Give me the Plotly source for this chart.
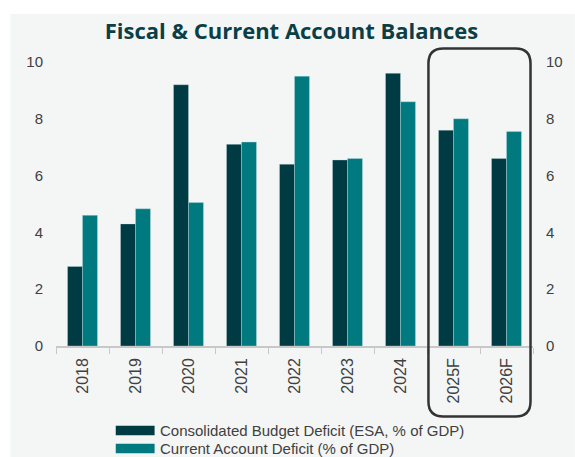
import plotly.graph_objects as go

# Data (% of GDP)
years = ["2018", "2019", "2020", "2021", "2022", "2023", "2024", "2025F", "2026F"]
budget_deficit = [2.8, 4.3, 9.2, 7.1, 6.4, 6.55, 9.6, 7.6, 6.6]
current_account_deficit = [4.6, 4.83, 5.05, 7.18, 9.5, 6.6, 8.6, 8.0, 7.55]

series_names = [
    "Consolidated Budget Deficit (ESA, % of GDP)",
    "Current Account Deficit (% of GDP)",
]
series_colors = ["#003a42", "#00797f"]

W, H = 575, 457
L, R, T, B = 56, 40, 62, 111
PW, PH = W - L - R, H - T - B

def px_x(x):
    return (x - L) / PW

def px_y(y):
    return (H - B - y) / PH

text_color = "#404040"
font_family = "Liberation Sans, Arial, sans-serif"

fig = go.Figure()
for name, vals, col in zip(series_names, [budget_deficit, current_account_deficit], series_colors):
    fig.add_trace(go.Bar(
        x=years, y=vals, name=name,
        marker=dict(color=col, line=dict(color="rgba(200,225,228,0.6)", width=0.6)),
        showlegend=False,
    ))
# invisible trace to drive the right-hand axis
fig.add_trace(go.Scatter(x=years, y=budget_deficit, yaxis="y2", mode="none",
                         showlegend=False, hoverinfo="skip"))

shapes = []
# light panel behind the chart
shapes.append(dict(type="rect", xref="paper", yref="paper",
                   x0=px_x(10), x1=px_x(W + 2), y0=px_y(H + 2), y1=px_y(14),
                   fillcolor="#f4f6f6", line=dict(width=0), layer="below"))

# rounded box around the forecast years
bx0, bx1, by0, by1, rad = 430.0, 532.5, 48.5, 416.5, 15.0
x0, x1 = px_x(bx0), px_x(bx1)
yt, yb = px_y(by0), px_y(by1)
rx, ry = rad / PW, rad / PH
path = (f"M {x0+rx},{yt} L {x1-rx},{yt} Q {x1},{yt} {x1},{yt-ry} "
        f"L {x1},{yb+ry} Q {x1},{yb} {x1-rx},{yb} "
        f"L {x0+rx},{yb} Q {x0},{yb} {x0},{yb+ry} "
        f"L {x0},{yt-ry} Q {x0},{yt} {x0+rx},{yt} Z")
shapes.append(dict(type="path", xref="paper", yref="paper", path=path,
                   line=dict(color="#333333", width=2.5), layer="above"))

# legend drawn with wide swatches
annotations = []
legend_rows = [430.5, 448.5]
for name, col, yc in zip(series_names, series_colors, legend_rows):
    shapes.append(dict(type="rect", xref="paper", yref="paper",
                       x0=px_x(116), x1=px_x(155), y0=px_y(yc + 4.7), y1=px_y(yc - 4.7),
                       fillcolor=col, line=dict(width=0)))
    annotations.append(dict(xref="paper", yref="paper", x=px_x(158), y=px_y(yc),
                            xanchor="left", yanchor="middle", showarrow=False,
                            text=name, font=dict(size=15, color=text_color, family=font_family)))

fig.update_layout(
    width=W, height=H,
    margin=dict(l=L, r=R, t=T, b=B),
    paper_bgcolor="white",
    plot_bgcolor="rgba(0,0,0,0)",
    barmode="group", bargap=0.435, bargroupgap=0,
    title=dict(text="<b>Fiscal & Current Account Balances</b>",
               x=px_x(292.5), xref="paper", xanchor="center",
               y=1 - 31 / H, yref="container", yanchor="middle",
               font=dict(family="Open Sans, sans-serif", size=22, color="#0b3f47")),
    font=dict(family=font_family, size=15, color=text_color),
    xaxis=dict(type="category", tickangle=-90, showgrid=False,
               showline=True, linecolor="#c8c8c8", linewidth=1.5,
               ticks="outside", tickson="boundaries", ticklen=6, tickcolor="#c8c8c8",
               ticklabelstandoff=4,
               tickfont=dict(size=16, color=text_color)),
    yaxis=dict(range=[0, 10], dtick=2, showgrid=False, zeroline=False,
               showline=False, ticklabelstandoff=12,
               tickfont=dict(size=15, color=text_color)),
    yaxis2=dict(range=[0, 10], dtick=2, overlaying="y", side="right",
                showgrid=False, zeroline=False, showline=False,
                ticklabelstandoff=12,
                tickfont=dict(size=15, color=text_color)),
    shapes=shapes,
    annotations=annotations,
)

fig.write_html("out.html")
